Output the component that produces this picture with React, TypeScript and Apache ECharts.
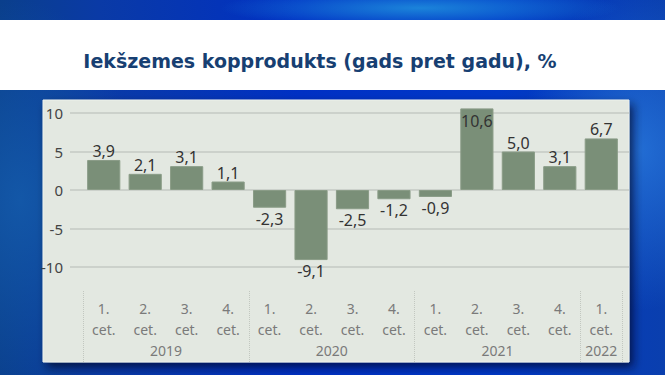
import React, { useEffect, useRef } from "react";
import * as echarts from "echarts";

const TITLE = "Iekšzemes kopprodukts (gads pret gadu), %";
const quarterLabels = [
  "1.\ncet.", "2.\ncet.", "3.\ncet.", "4.\ncet.",
  "1.\ncet.", "2.\ncet.", "3.\ncet.", "4.\ncet.",
  "1.\ncet.", "2.\ncet.", "3.\ncet.", "4.\ncet.",
  "1.\ncet.",
];
const years = ["2019", "2020", "2021", "2022"];
const quartersPerYear = [4, 4, 4, 1];
const gdpValues = [3.9, 2.1, 3.1, 1.1, -2.3, -9.1, -2.5, -1.2, -0.9, 10.6, 5.0, 3.1, 6.7];
const yMin = -10;
const yMax = 10;
const yStep = 5;

const FONT = "'Noto Sans', 'Open Sans', sans-serif";

export default function App() {
  const ref = useRef<HTMLDivElement>(null);

  useEffect(() => {
    if (!ref.current) return;
    const chart = echarts.init(ref.current, undefined, { renderer: "svg" });

    const yearCenters: number[] = [];
    const separators: number[] = [-0.5];
    let start = 0;
    quartersPerYear.forEach((n) => {
      yearCenters.push(start + (n - 1) / 2);
      start += n;
      separators.push(start - 0.5);
    });

    const fmt = (v: number) => v.toFixed(1).replace(".", ",");

    chart.setOption({
      animation: false,
      backgroundColor: "transparent",
      title: {
        text: TITLE,
        left: 315,
        top: 46,
        textAlign: "center",
        textStyle: {
          fontFamily: "'DejaVu Sans', sans-serif",
          fontSize: 19,
          fontWeight: "bold",
          color: "#173f72",
        },
      },
      graphic: [
        {
          type: "rect",
          z: -10,
          shape: { x: 0, y: 20, width: 665, height: 70 },
          style: { fill: "#ffffff" },
        },
        {
          type: "rect",
          z: -10,
          shape: { x: 43, y: 100, width: 586, height: 262 },
          style: {
            fill: "#e3e8e1",
            stroke: "#eef1ec",
            lineWidth: 1,
            shadowBlur: 10,
            shadowColor: "rgba(0,0,30,0.65)",
            shadowOffsetX: 4,
            shadowOffsetY: 5,
          },
        },
      ],
      grid: [
        { left: 70, right: 36, top: 113, height: 154 },
        { left: 83, right: 43, top: 113, height: 154 },
        { left: 83, right: 43, top: 290, height: 72 },
      ],
      xAxis: [
        { gridIndex: 0, type: "value", min: 0, max: 1, show: false },
        {
          gridIndex: 1,
          type: "category",
          data: quarterLabels,
          axisLine: { show: false, onZero: false },
          axisTick: { show: false },
          axisLabel: {
            interval: 0,
            color: "#7a7a7a",
            fontSize: 14,
            lineHeight: 21,
            margin: 31,
            fontFamily: FONT,
          },
        },
        {
          gridIndex: 2,
          type: "value",
          min: -0.5,
          max: quarterLabels.length - 0.5,
          axisLine: { show: false, onZero: false },
          splitLine: { show: false },
          axisTick: {
            show: true,
            inside: true,
            length: 72,
            customValues: separators,
            lineStyle: { type: "dotted", color: "#c2c7c0", width: 1 },
          },
          axisLabel: {
            inside: true,
            customValues: yearCenters,
            formatter: (v: number) => {
              const i = yearCenters.findIndex((c) => Math.abs(c - v) < 1e-6);
              return i >= 0 ? years[i] : "";
            },
            margin: 5,
            color: "#7a7a7a",
            fontSize: 14,
            fontFamily: FONT,
          },
        },
      ],
      yAxis: [
        {
          gridIndex: 0,
          type: "value",
          min: yMin,
          max: yMax,
          interval: yStep,
          axisLine: { show: false },
          axisTick: { show: false },
          axisLabel: { color: "#444444", fontSize: 15, margin: 7, fontFamily: FONT },
          splitLine: { lineStyle: { color: "#c5cac3", width: 1.5 } },
        },
        { gridIndex: 1, type: "value", min: yMin, max: yMax, interval: yStep, show: false, splitLine: { show: false } },
        { gridIndex: 2, type: "value", min: 0, max: 1, show: false, splitLine: { show: false } },
      ],
      series: [
        {
          type: "bar",
          xAxisIndex: 1,
          yAxisIndex: 1,
          clip: false,
          barCategoryGap: "20%",
          itemStyle: { color: "#7a8f78", borderColor: "#8a9c87", borderWidth: 1 },
          label: {
            show: true,
            fontSize: 16,
            color: "#333333",
            fontFamily: FONT,
            distance: 1,
            formatter: (p: any) => fmt(p.value),
          },
          data: gdpValues.map((v) => ({
            value: v,
            label: {
              position: v < 0 ? "bottom" : v > yMax ? "insideTop" : "top",
              distance: v > yMax ? 5 : v < 0 ? 3 : 1,
            },
          })),
        },
      ],
    });

    return () => chart.dispose();
  }, []);

  return (
    <div
      style={{
        position: "fixed",
        left: 0,
        top: 0,
        width: 665,
        height: 375,
        background:
          "radial-gradient(ellipse 120px 160px at 640px 150px, rgba(40,120,220,0.8), rgba(40,120,220,0) 100%)," +
          "radial-gradient(ellipse 200px 20px at 420px 8px, rgba(30,140,220,0.9), rgba(30,140,220,0) 100%)," +
          "radial-gradient(ellipse 120px 200px at 20px 200px, rgba(20,90,170,0.9), rgba(20,90,170,0) 100%)," +
          "linear-gradient(90deg, #0a3f8c 0%, #0a3aa6 15%, #0030c4 45%, #0038c8 75%, #0a3fae 100%)",
      }}
    >
      <div ref={ref} style={{ width: 665, height: 375 }} />
    </div>
  );
}
